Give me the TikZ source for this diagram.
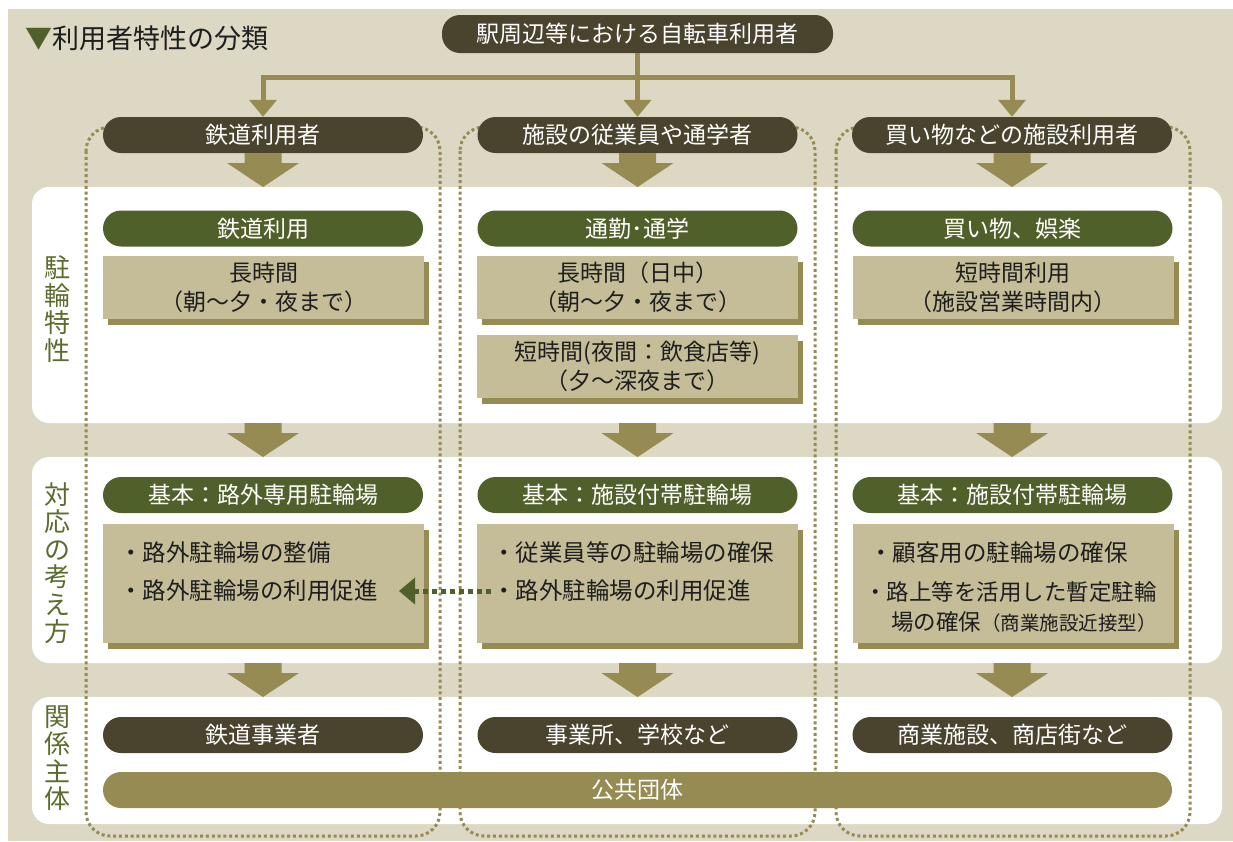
\documentclass[tikz,border=0pt]{standalone}
\usepackage{fontspec}
\setmainfont{Noto Sans CJK JP}
\usetikzlibrary{arrows.meta,shadows}
\definecolor{bg}{HTML}{DCD8C3}
\definecolor{dark}{HTML}{4A432D}
\definecolor{grn}{HTML}{50602A}
\definecolor{tanc}{HTML}{C4BD98}
\definecolor{olv}{HTML}{958B53}
\definecolor{lbl}{HTML}{5C6C2E}
\definecolor{txt}{HTML}{1E1E1E}
\newcommand\blockarr[1]{\fill[olv] (#1) ++(-18.5,0) -- ++(37,0) -- ++(0,10) -- ++(17.5,0) -- ++(-36,24) -- ++(-36,-24) -- ++(17.5,0) -- cycle;}
\begin{document}
\begin{tikzpicture}[x=1pt,y=-1pt,
  pill/.style={rectangle, rounded corners=18pt, minimum width=320pt, minimum height=36pt, inner sep=0pt, text=white, font=\fontsize{23}{27}\selectfont},
  darkpill/.style={pill, fill=dark},
  grnpill/.style={pill, fill=grn},
  tanbox/.style={rectangle, fill=tanc, minimum width=321pt, inner sep=0pt, align=center, text=txt, font=\fontsize{23}{29}\selectfont, drop shadow={shadow xshift=5pt, shadow yshift=-6pt, fill=olv, opacity=1}},
  panel/.style={rectangle, fill=white, rounded corners=17pt, minimum width=1190pt, inner sep=0pt},
  colbox/.style={draw=olv, line width=3pt, dash pattern=on 3pt off 2.8pt, rounded corners=24pt},
  conn/.style={draw=olv, line width=5pt, -{Triangle[width=27pt,length=17pt]}},
  vlabel/.style={align=center, text=lbl, font=\fontsize{26}{27.5}\selectfont, inner sep=0pt},
  bul/.style={anchor=west, inner sep=0pt, text=txt, font=\fontsize{23.5}{27}\selectfont},
]
\useasboundingbox (0,0) rectangle (1233,841);
\fill[bg] (8,9) rectangle (1233,841);
% panels
\node[panel, minimum height=236pt] (p1) at (627,305) {};
\node[panel, minimum height=206pt] (p2) at (627,560) {};
\node[panel, minimum height=127pt] (p3) at (627,760.5) {};
% dotted column frames
\draw[colbox] (86,127) rectangle (440,836);
\draw[colbox] (460,127) rectangle (815,836);
\draw[colbox] (836,127) rectangle (1190,836);
% title
\node[anchor=west, inner sep=0pt, text=txt, font=\fontsize{27}{31}\selectfont] (title) at (25,38) {\textcolor{grn}{▼}利用者特性の分類};
% top
\node[darkpill, minimum width=391pt, minimum height=38pt] (top) at (637.5,34) {駅周辺等における自転車利用者};
\node[darkpill] (c1) at (263,135) {鉄道利用者};
\node[darkpill] (c2) at (637.5,135) {施設の従業員や通学者};
\node[darkpill] (c3) at (1012,135) {買い物などの施設利用者};
\coordinate (hub) at (637.5,77.5);
\draw[conn] (top.south) -- (c2.north);
\draw[conn] (hub) -| (c1.north);
\draw[conn] (hub) -| (c3.north);
% vertical labels
\node[vlabel] (l1) at (57,309) {駐\\輪\\特\\性};
\node[vlabel] (l2) at (57,563) {対\\応\\の\\考\\え\\方};
\node[vlabel] (l3) at (57,758) {関\\係\\主\\体};
% row A
\node[grnpill] (a1) at (263,228.5) {鉄道利用};
\node[grnpill] (a2) at (637.5,228.5) {通勤･通学};
\node[grnpill] (a3) at (1012.5,228.5) {買い物、娯楽};
\node[tanbox, minimum height=63pt] (t1) at (263.5,287.5) {長時間\\（朝～夕・夜まで）};
\node[tanbox, minimum height=63pt] (t2) at (637.5,287.5) {長時間（日中）\\（朝～夕・夜まで）};
\node[tanbox, minimum height=63pt] (t2b) at (637.5,366.5) {短時間(夜間：飲食店等)\\（夕～深夜まで）};
\node[tanbox, minimum height=63pt] (t3) at (1013,287.5) {短時間利用\\（施設営業時間内）};
% row B
\node[grnpill] (b1) at (263,495) {基本：路外専用駐輪場};
\node[grnpill] (b2) at (637.5,495) {基本：施設付帯駐輪場};
\node[grnpill] (b3) at (1012.5,495) {基本：施設付帯駐輪場};
\node[tanbox, minimum height=119pt] (u1) at (263.5,583.5) {};
\node[tanbox, minimum height=119pt] (u2) at (637.5,583.5) {};
\node[tanbox, minimum height=119pt] (u3) at (1013.5,583.5) {};
\node[bul] (u1a) at (119,553) {・路外駐輪場の整備};
\node[bul] (u1b) at (119,591) {・路外駐輪場の利用促進};
\node[bul] (u2a) at (492,553) {・従業員等の駐輪場の確保};
\node[bul] (u2b) at (492,591) {・路外駐輪場の利用促進};
\node[bul] (u3a) at (869,553) {・顧客用の駐輪場の確保};
\node[bul, font=\fontsize{22.5}{27}\selectfont] (u3b) at (864,592) {・路上等を活用した暫定駐輪};
\node[bul, font=\fontsize{22.5}{27}\selectfont] (u3c) at (891,622) {場の確保{\fontsize{19.5}{22}\selectfont（商業施設近接型）}};
% row C
\node[darkpill] (r1) at (263,735) {鉄道事業者};
\node[darkpill] (r2) at (637.5,735) {事業所、学校など};
\node[darkpill] (r3) at (1012.5,735) {商業施設、商店街など};
\node[pill, fill=olv, minimum width=1069pt] (pub) at (637.5,790) {公共団体};
% block arrows
\blockarr{263,153}
\blockarr{637.5,153}
\blockarr{1012,153}
\blockarr{263,423}
\blockarr{637.5,423}
\blockarr{1012,423}
\blockarr{263,663}
\blockarr{637.5,663}
\blockarr{1012,663}
% green dotted arrow
\coordinate (gs) at (491,591);
\coordinate (ge) at (399,591);
\draw[draw=grn, line width=5pt, dash pattern=on 5pt off 4pt, -{Triangle[width=26pt,length=16pt]}] (gs) -- (ge);
\end{tikzpicture}
\end{document}
